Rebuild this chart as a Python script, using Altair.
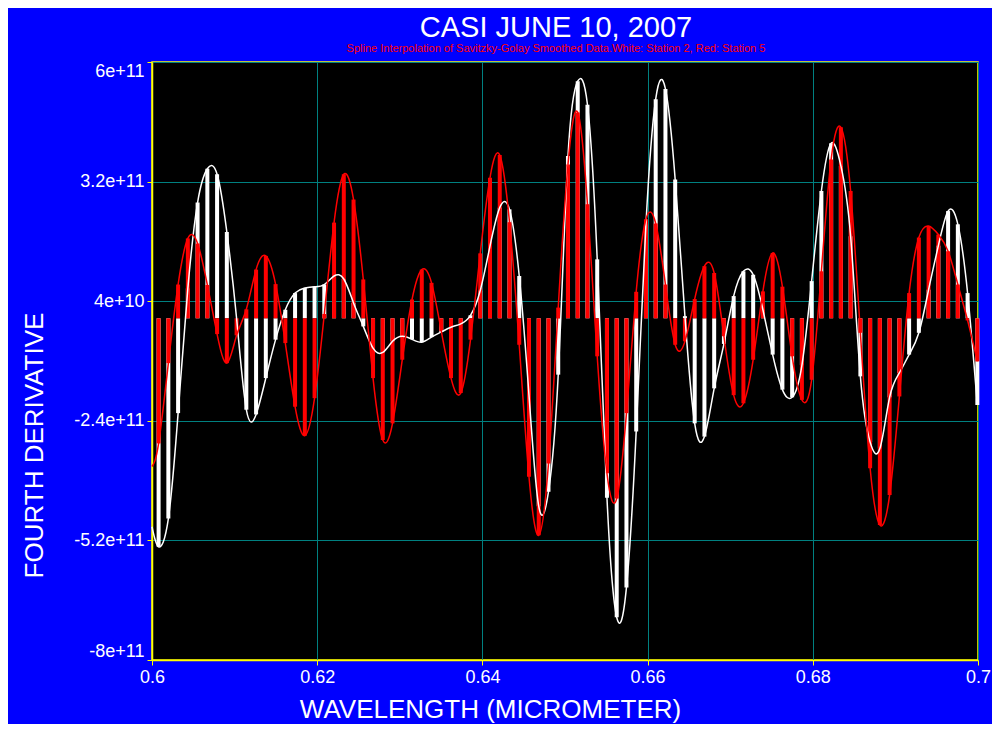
import altair as alt
import pandas as pd

# Band centres (micrometer) of the sampled data
wavelength = [
    0.60080, 0.60198, 0.60316, 0.60434, 0.60552, 0.60670, 0.60788, 0.60906, 0.61024, 0.61142,
    0.61260, 0.61378, 0.61496, 0.61614, 0.61732, 0.61850, 0.61968, 0.62086, 0.62204, 0.62322,
    0.62440, 0.62558, 0.62676, 0.62794, 0.62912, 0.63030, 0.63148, 0.63266, 0.63384, 0.63502,
    0.63620, 0.63738, 0.63856, 0.63974, 0.64092, 0.64210, 0.64328, 0.64446, 0.64564, 0.64682,
    0.64800, 0.64918, 0.65036, 0.65154, 0.65272, 0.65390, 0.65508, 0.65626, 0.65744, 0.65862,
    0.65980, 0.66098, 0.66216, 0.66334, 0.66452, 0.66570, 0.66688, 0.66806, 0.66924, 0.67042,
    0.67160, 0.67278, 0.67396, 0.67514, 0.67632, 0.67750, 0.67868, 0.67986, 0.68104, 0.68222,
    0.68340, 0.68458, 0.68576, 0.68694, 0.68812, 0.68930, 0.69048, 0.69166, 0.69284, 0.69402,
    0.69520, 0.69638, 0.69756, 0.69874, 0.69992,
]

# Fourth derivative, in units of 1e11
station2_white = [
    -5.35, -4.69, -2.22, 0.70, 2.71, 3.50, 3.37, 2.02, 0.00, -2.14,
    -2.25, -1.40, -0.50, 0.20, 0.59, 0.71, 0.74, 0.79, 0.99, 0.92,
    0.36, -0.19, -0.70, -0.80, -0.54, -0.42, -0.49, -0.56, -0.44, -0.32,
    -0.21, -0.13, 0.07, 0.65, 1.69, 2.59, 2.55, 0.99, -1.80, -4.40,
    -4.06, -1.32, 3.80, 5.55, 5.00, 1.38, -4.20, -7.00, -6.30, -2.65,
    2.20, 5.13, 5.37, 3.25, 0.05, -2.46, -2.77, -1.64, -0.60, 0.52,
    1.10, 1.02, 0.20, -0.85, -1.67, -1.85, -1.10, 0.87, 2.98, 4.10,
    3.57, 1.92, -1.36, -2.90, -3.05, -1.85, -1.28, -0.85, -0.34, 0.67,
    1.70, 2.51, 2.20, 0.59, -2.03,
]
station5_red = [
    -2.93, -1.05, 0.79, 1.87, 1.75, 0.78, -0.37, -1.05, -0.40, 0.21,
    1.14, 1.46, 0.80, -0.58, -2.07, -2.75, -1.87, 0.10, 2.24, 3.37,
    2.78, 0.91, -1.40, -2.85, -2.46, -0.97, 0.44, 1.14, 0.83, -0.30,
    -1.40, -1.75, -0.50, 1.52, 3.29, 3.82, 2.25, -0.62, -3.71, -5.08,
    -3.40, 0.25, 3.60, 4.82, 2.67, -0.89, -3.63, -4.22, -2.22, 0.62,
    2.32, 2.22, 0.79, -0.62, -0.54, 0.45, 1.22, 1.06, -0.42, -1.80,
    -1.99, -0.97, 0.63, 1.53, 0.74, -0.89, -1.91, -1.44, 1.10, 3.72,
    4.47, 2.98, -0.34, -3.51, -4.84, -4.14, -1.83, 0.59, 1.89, 2.16,
    1.96, 1.57, 0.79, -0.05, -1.01,
]

# Spline curves begin at the left edge of the plot
curve_start_wavelength = 0.6
station2_curve_start = -4.88
station5_curve_start = -3.47

x_ticks = [0.6, 0.62, 0.64, 0.66, 0.68, 0.7]
y_ticks = [6e11, 3.2e11, 4e10, -2.4e11, -5.2e11, -8e11]

UNIT = 1e11

white_sticks = pd.DataFrame({"wavelength": wavelength,
                             "value": [v * UNIT for v in station2_white]})
red_sticks = pd.DataFrame({"wavelength": wavelength,
                           "value": [v * UNIT for v in station5_red]})
white_curve = pd.DataFrame({"wavelength": [curve_start_wavelength] + wavelength,
                            "value": [v * UNIT for v in [station2_curve_start] + station2_white]})
red_curve = pd.DataFrame({"wavelength": [curve_start_wavelength] + wavelength,
                          "value": [v * UNIT for v in [station5_curve_start] + station5_red]})

FONT = "Liberation Sans"

x_enc = alt.X(
    "wavelength:Q",
    scale=alt.Scale(domain=[0.6, 0.7], nice=False, zero=False),
    axis=alt.Axis(
        values=x_ticks,
        format="~g",
        title="WAVELENGTH (MICROMETER)",
        titleX=338,
        titleY=57,
        titleAlign="center",
        titleBaseline="alphabetic",
        labelFlush=False,
        labelOverlap=False,
    ),
)
y_enc = alt.Y(
    "value:Q",
    scale=alt.Scale(domain=[-8e11, 6e11], nice=False, zero=False),
    axis=alt.Axis(
        values=y_ticks,
        labelExpr="replace(format(datum.value, '.2~e'), '\u2212', '-')",
        title="FOURTH DERIVATIVE",
        titleAngle=270,
        titleX=-110,
        titleY=383,
        titleAlign="center",
        titleBaseline="alphabetic",
        labelFlush=True,
        labelOverlap=False,
    ),
)

white_bars = alt.Chart(white_sticks).mark_rule(
    color="white", strokeWidth=4, strokeCap="butt"
).encode(x=x_enc, y=y_enc, y2=alt.datum(0))

red_bars = alt.Chart(red_sticks).mark_rule(
    color="#FF0000", strokeWidth=4, strokeCap="butt"
).encode(x=x_enc, y=y_enc, y2=alt.datum(0))

white_line = alt.Chart(white_curve).mark_line(
    color="white", strokeWidth=1.5, interpolate="natural"
).encode(x=x_enc, y=y_enc)

red_line = alt.Chart(red_curve).mark_line(
    color="#FF0000", strokeWidth=1.5, interpolate="natural"
).encode(x=x_enc, y=y_enc)

chart = alt.layer(white_bars, red_bars, white_line, red_line).properties(
    width=826,
    height=598,
    padding={"left": 144, "top": 54, "right": 14, "bottom": 64},
    autosize=alt.AutoSizeParams(type="none"),
    title=alt.TitleParams(
        text="CASI JUNE 10, 2007",
        subtitle="Spline Interpolation of Savitzky-Golay Smoothed Data.White: Station 2, Red: Station 5",
        color="white",
        font=FONT,
        fontSize=29,
        fontWeight="normal",
        subtitleColor="#FF0000",
        subtitleFont=FONT,
        subtitleFontSize=11,
        subtitlePadding=0,
        anchor="middle",
        offset=8,
        dx=-9,
    ),
).configure(
    background="#0000FF"
).configure_view(
    fill="black", stroke="#FFFF00", strokeWidth=1.5
).configure_axis(
    domainColor="#FFFF00",
    domainWidth=1.5,
    tickColor="#FFFF00",
    tickSize=5,
    gridColor="#008080",
    gridWidth=1,
    gridOpacity=1,
    labelColor="white",
    labelFont=FONT,
    labelFontSize=18,
    labelPadding=3,
    titleColor="white",
    titleFont=FONT,
    titleFontSize=26,
    titleFontWeight="normal",
)

chart.save("out.html", embed_options={"renderer": "svg", "actions": False})
